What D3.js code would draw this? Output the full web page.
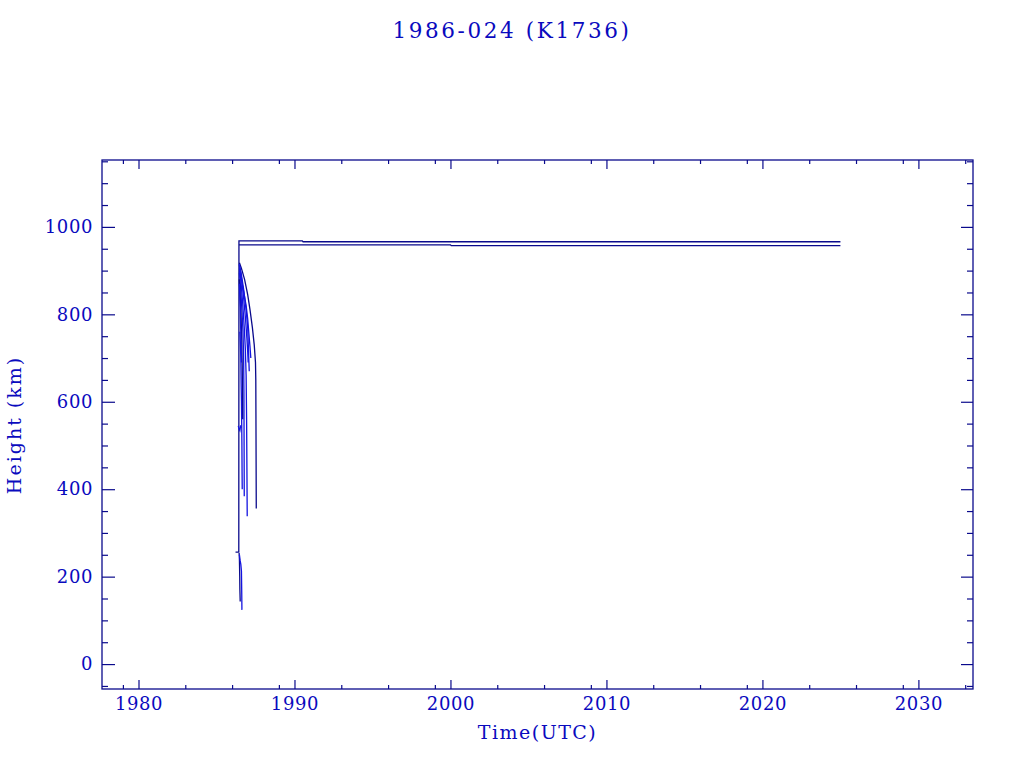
<!DOCTYPE html>
<html><head><meta charset="utf-8">
<script src="https://cdn.jsdelivr.net/npm/d3@7/dist/d3.min.js"></script>
<style>body{margin:0;background:#fff}svg{display:block}</style>
</head><body>
<script>
// ---- data ----
const titleText = "1986-024 (K1736)";
const xLabel = "Time(UTC)";
const yLabel = "Height (km)";
const xMajorTicks = [1980, 1990, 2000, 2010, 2020, 2030];
const yMajorTicks = [0, 200, 400, 600, 800, 1000];
const xDomain = [1977.66, 2033.5];
const yDomain = [-57, 1153];

// each series: [year, height km]
const payload = [[1986.22,256],[1986.43,256],[1986.44,968],[1990.5,968],[1990.55,966],[2025.0,966]];
const rocketBody = [[1986.44,959],[2000.0,959],[2000.05,957],[2025.0,957]];
const lowStage1 = [[1986.45,254],[1986.47,240],[1986.49,200],[1986.50,170],[1986.52,143]];
const lowStage2 = [[1986.47,250],[1986.52,236],[1986.56,228],[1986.60,212],[1986.62,160],[1986.63,124]];
const debrisBlob = [[1986.40,545],[1986.44,538],[1986.50,534],[1986.55,546],[1986.58,540]];
const debris1 = [[1986.47,918],[1986.6,905],[1986.8,880],[1987.0,845],[1987.15,810],[1987.3,770],[1987.42,730],[1987.5,690],[1987.52,650],[1987.53,560],[1987.55,356]];
const debris2 = [[1986.47,912],[1986.6,890],[1986.75,855],[1986.9,810],[1987.0,770],[1987.05,720],[1987.08,690],[1987.1,670]];
const debris3 = [[1986.48,905],[1986.58,870],[1986.68,825],[1986.78,770],[1986.85,720],[1986.9,660],[1986.93,560],[1986.95,450],[1986.97,338]];
const debris4 = [[1986.47,895],[1986.55,860],[1986.63,810],[1986.7,760],[1986.74,700],[1986.76,620],[1986.77,500],[1986.78,384]];
const debris5 = [[1986.48,900],[1986.6,880],[1986.75,850],[1986.9,820],[1987.0,790],[1987.08,755],[1987.15,725],[1987.2,700]];
const debris6 = [[1986.46,880],[1986.52,840],[1986.58,790],[1986.62,740],[1986.65,680],[1986.67,610],[1986.68,560]];
const debris7 = [[1986.47,870],[1986.52,820],[1986.55,770],[1986.58,730],[1986.6,690]];
const debris8 = [[1986.5,760],[1986.53,735],[1986.56,700],[1986.58,640],[1986.6,600],[1986.62,540],[1986.63,500],[1986.64,440],[1986.65,400]];
const debris9 = [[1986.46,915],[1986.56,895],[1986.66,865],[1986.76,830],[1986.86,790],[1986.95,745],[1987.0,715],[1987.03,690]];

const seriesList = [payload, rocketBody, lowStage1, lowStage2, debrisBlob, debris1, debris2, debris3, debris4, debris5, debris6, debris7, debris8, debris9];
const seriesColor = ["#0a0a8c","#0a0a8c","#0a0a8c","#1414e0","#1414e0","#0a0a8c","#1414e0","#1414e0","#1414e0","#1414e0","#0a0a8c","#1414e0","#1414e0","#1414e0"];

// ---- layout ----
const W = 1024, H = 768;
const PL = 102, PR = 973, PT = 160, PB = 689;
const axisColor = "#0a0a8c", textColor = "#0a0abe";
const font = "'DejaVu Serif', serif";

const svg = d3.select("body").append("svg").attr("width", W).attr("height", H);
const x = d3.scaleLinear().domain(xDomain).range([PL, PR]);
const y = d3.scaleLinear().domain(yDomain).range([PB, PT]);

// minor ticks
const xMinor = [];
for (let d = 1970; d <= 2030; d += 10) for (const k of [3,6,9]) { const v = d + k; if (v > xDomain[0] && v < xDomain[1]) xMinor.push(v); }
const yMinor = d3.range(-50, 1151, 50).filter(v => v % 200 !== 0);

svg.append("g").attr("transform", `translate(0,${PB})`)
  .call(d3.axisBottom(x).tickValues(xMajorTicks).tickFormat(d3.format("d")).tickSize(-9).tickPadding(8));
svg.append("g").attr("transform", `translate(0,${PB})`)
  .call(d3.axisBottom(x).tickValues(xMinor).tickFormat("").tickSize(-4));
svg.append("g").attr("transform", `translate(0,${PT})`)
  .call(d3.axisTop(x).tickValues(xMajorTicks).tickFormat("").tickSize(-9));
svg.append("g").attr("transform", `translate(0,${PT})`)
  .call(d3.axisTop(x).tickValues(xMinor).tickFormat("").tickSize(-4));
svg.append("g").attr("transform", `translate(${PL},0)`)
  .call(d3.axisLeft(y).tickValues(yMajorTicks).tickFormat(d3.format("d")).tickSize(-13).tickPadding(9));
svg.append("g").attr("transform", `translate(${PL},0)`)
  .call(d3.axisLeft(y).tickValues(yMinor).tickFormat("").tickSize(-6));
svg.append("g").attr("transform", `translate(${PR},0)`)
  .call(d3.axisRight(y).tickValues(yMajorTicks).tickFormat("").tickSize(-12));
svg.append("g").attr("transform", `translate(${PR},0)`)
  .call(d3.axisRight(y).tickValues(yMinor).tickFormat("").tickSize(-6));

svg.selectAll(".domain").remove();
svg.selectAll(".tick line").attr("stroke", axisColor).attr("stroke-width", 1.2);
svg.selectAll(".tick text").attr("fill", textColor).attr("font-family", font).attr("font-size", 18).attr("letter-spacing", 0.6);

// frame
svg.append("rect").attr("x", PL).attr("y", PT).attr("width", PR - PL).attr("height", PB - PT)
  .attr("fill", "none").attr("stroke", axisColor).attr("stroke-width", 1.3);

// data lines
const line = d3.line().x(d => x(d[0])).y(d => y(d[1]));
svg.append("g").selectAll("path").data(seriesList).join("path")
  .attr("d", line).attr("fill", "none")
  .attr("stroke", (d, i) => seriesColor[i]).attr("stroke-width", 1.3);

// title & labels
svg.append("text").attr("x", 512).attr("y", 38).attr("text-anchor", "middle")
  .attr("font-family", font).attr("font-size", 21.5).attr("letter-spacing", 2.6).attr("fill", textColor).text(titleText);
svg.append("text").attr("x", (PL + PR) / 2).attr("y", 739).attr("text-anchor", "middle")
  .attr("font-family", font).attr("font-size", 19).attr("letter-spacing", 1.5).attr("fill", textColor).text(xLabel);
svg.append("text").attr("transform", `translate(21,425) rotate(-90)`).attr("text-anchor", "middle")
  .attr("font-family", font).attr("font-size", 19).attr("letter-spacing", 2).attr("fill", textColor).text(yLabel);
</script>
</body></html>
